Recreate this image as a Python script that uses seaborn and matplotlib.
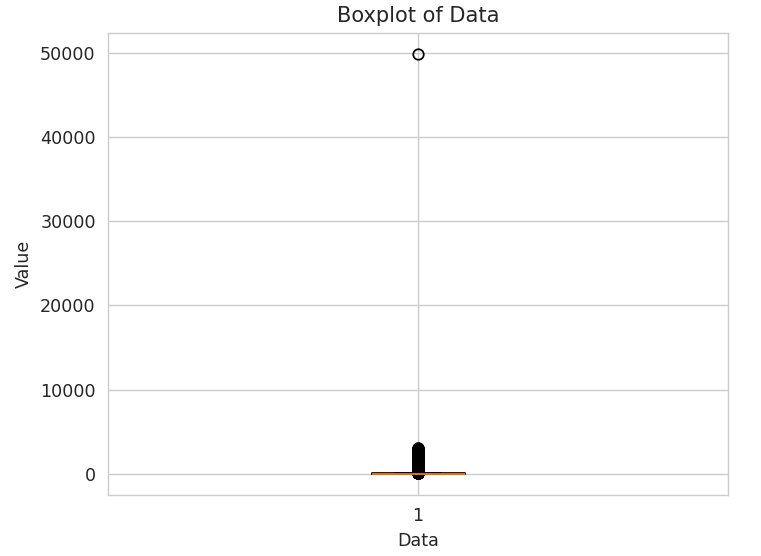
import numpy as np
import matplotlib
matplotlib.use("Agg")
import matplotlib.pyplot as plt
import seaborn as sns

# bulk of the data: value levels and how many points sit at each
core_levels = [0, 5, 10, 15, 20, 25, 30, 40, 50, 60, 70, 80, 100, 120, 145]
core_counts = [60, 100, 140, 130, 120, 110, 100, 120, 100, 90, 70, 50, 50, 30, 20]
# high outliers stacked above the box
outlier_values = [160, 180, 200, 230, 260, 290, 330, 370, 410, 460, 510, 560, 610, 670,
                  730, 790, 850, 910, 980, 1050, 1120, 1190, 1260, 1330, 1400, 1470,
                  1540, 1610, 1680, 1750, 1820, 1890, 1960, 2030, 2100, 2170, 2240,
                  2310, 2380, 2450, 2520, 2590, 2660, 2730, 2800, 2870, 2940, 3000,
                  3050, 3100]
extreme_value = [49850]

data = np.concatenate([np.repeat(core_levels, core_counts), outlier_values, extreme_value])

sns.set_style("whitegrid")

dpi = 126
fig = plt.figure(figsize=(761 / dpi, 556 / dpi), dpi=dpi)
ax = fig.add_axes([0.142, 0.110, 0.815, 0.831])
ax.boxplot(data, widths=0.15)
ax.set_xlim(0.5, 1.5)
ax.set_title("Boxplot of Data")
ax.set_xlabel("Data")
ax.set_ylabel("Value")

fig.savefig("out.png", dpi=dpi)
